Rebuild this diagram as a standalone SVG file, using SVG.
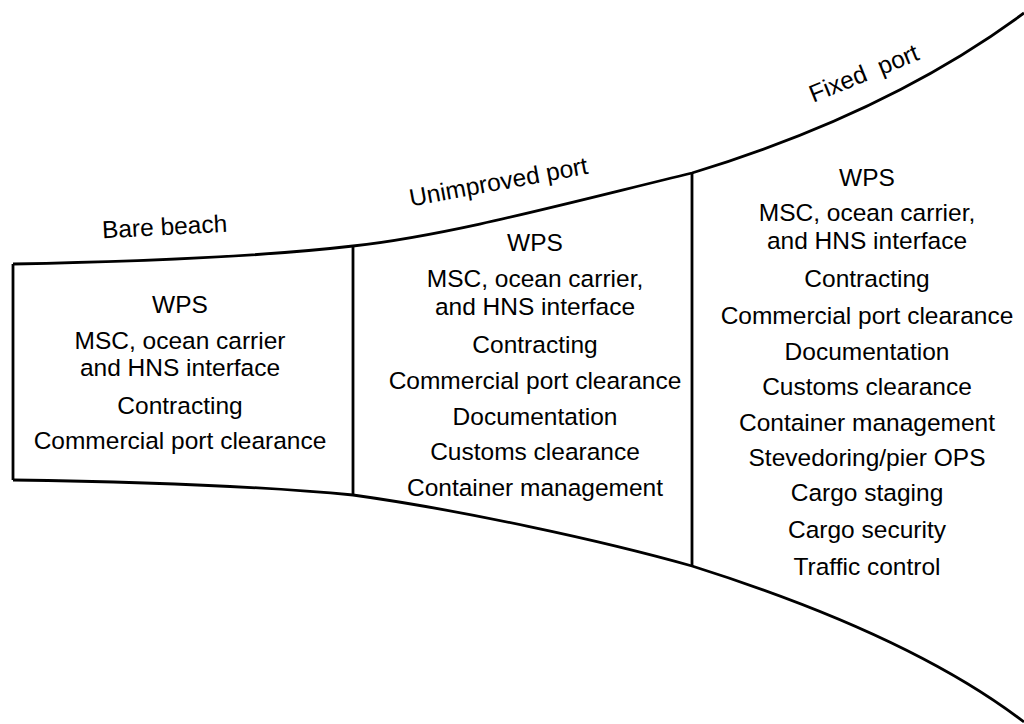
<svg xmlns="http://www.w3.org/2000/svg" width="1024" height="724" viewBox="0 0 1024 724">
<style>
.ln{fill:none;stroke:#000;stroke-width:2.8;stroke-linejoin:round}
text{font-family:"Liberation Sans",Arial,sans-serif;font-size:24.5px;fill:#000}
.c{text-anchor:middle}
</style>
<rect width="1024" height="724" fill="#fff"/>
<g id="connectors">
<path class="ln" d="M13,264 C120,262 250,258 353,246 C450,235 560,205 692,173 C800,140 920,90 1024,13"/>
<path class="ln" d="M13,480 C150,482 260,486 353,495 C460,510 600,540 692,566 C800,600 930,650 1024,722"/>
<path class="ln" d="M13,264 L13,480"/>
<path class="ln" d="M353,246 L353,495"/>
<path class="ln" d="M692,173 L692,566"/>
</g>
<g id="label-bare-beach"><text class="c" transform="translate(165,235) rotate(-3)">Bare beach</text></g>
<g id="label-unimproved-port"><text class="c" transform="translate(500,190) rotate(-10.5)">Unimproved port</text></g>
<g id="label-fixed-port"><text class="c" transform="translate(867,81) rotate(-22)" xml:space="preserve">Fixed  port</text></g>
<g id="node-bare-beach">
<text class="c" x="180" y="313">WPS</text>
<text class="c" x="180" y="349">MSC, ocean carrier</text>
<text class="c" x="180" y="376">and HNS interface</text>
<text class="c" x="180" y="414">Contracting</text>
<text class="c" x="180" y="449">Commercial port clearance</text>
</g>
<g id="node-unimproved-port">
<text class="c" x="535" y="251">WPS</text>
<text class="c" x="535" y="287">MSC, ocean carrier,</text>
<text class="c" x="535" y="315">and HNS interface</text>
<text class="c" x="535" y="353">Contracting</text>
<text class="c" x="535" y="389">Commercial port clearance</text>
<text class="c" x="535" y="425">Documentation</text>
<text class="c" x="535" y="460">Customs clearance</text>
<text class="c" x="535" y="496">Container management</text>
</g>
<g id="node-fixed-port">
<text class="c" x="867" y="186">WPS</text>
<text class="c" x="867" y="221">MSC, ocean carrier,</text>
<text class="c" x="867" y="249">and HNS interface</text>
<text class="c" x="867" y="287">Contracting</text>
<text class="c" x="867" y="324">Commercial port clearance</text>
<text class="c" x="867" y="360">Documentation</text>
<text class="c" x="867" y="395">Customs clearance</text>
<text class="c" x="867" y="431">Container management</text>
<text class="c" x="867" y="466">Stevedoring/pier OPS</text>
<text class="c" x="867" y="501">Cargo staging</text>
<text class="c" x="867" y="538">Cargo security</text>
<text class="c" x="867" y="575">Traffic control</text>
</g>
</svg>
